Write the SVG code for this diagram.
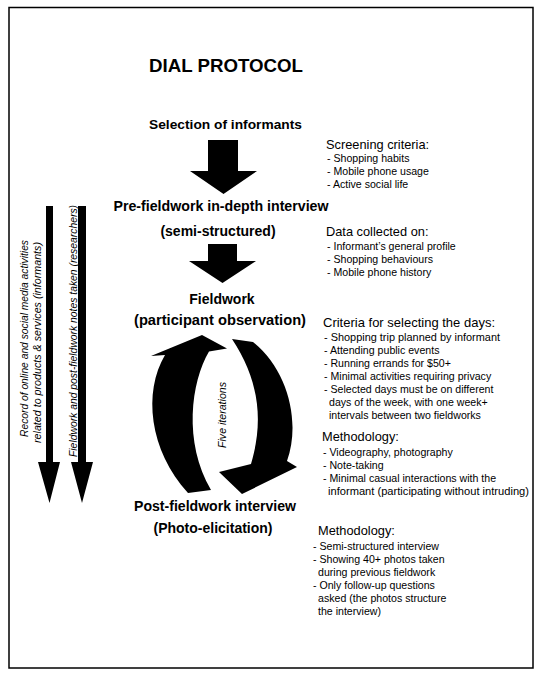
<svg xmlns="http://www.w3.org/2000/svg" width="543" height="676" viewBox="0 0 543 676">
<style>
.b{font-family:"Liberation Sans",Arial,sans-serif;font-weight:bold;fill:#000;text-anchor:middle}
.h{font-family:"Liberation Sans",Arial,sans-serif;font-size:12.8px;fill:#000}
.i{font-family:"Liberation Sans",Arial,sans-serif;font-size:10.6px;fill:#000}
.r{font-family:"Liberation Sans",Arial,sans-serif;font-size:10.5px;font-style:italic;fill:#000;text-anchor:middle}
.a{fill:#000;stroke:none}
</style>
<rect x="0" y="0" width="543" height="676" fill="#fff"/>
<rect x="9" y="7.5" width="524" height="660.5" fill="none" stroke="#000" stroke-width="1.5"/>
<g id="title"><text class="b" x="226" y="72" font-size="18.5" textLength="154" lengthAdjust="spacingAndGlyphs">DIAL PROTOCOL</text></g>
<g id="selection"><text class="b" x="225.5" y="129" font-size="13.5" textLength="153" lengthAdjust="spacingAndGlyphs">Selection of informants</text></g>
<g id="prefieldwork">
<text class="b" x="221" y="211" font-size="14" textLength="215" lengthAdjust="spacingAndGlyphs">Pre-fieldwork in-depth interview</text>
<text class="b" x="218" y="236" font-size="14">(semi-structured)</text>
</g>
<g id="fieldwork">
<text class="b" x="222" y="304" font-size="14">Fieldwork</text>
<text class="b" x="220" y="325" font-size="14" textLength="172" lengthAdjust="spacingAndGlyphs">(participant observation)</text>
</g>
<g id="postfieldwork">
<text class="b" x="215" y="511" font-size="14" textLength="162" lengthAdjust="spacingAndGlyphs">Post-fieldwork interview</text>
<text class="b" x="213" y="533" font-size="14">(Photo-elicitation)</text>
</g>
<g id="screening">
<text class="h" x="326" y="149">Screening criteria:</text>
<text class="i" x="327" y="162">- Shopping habits</text>
<text class="i" x="327" y="175">- Mobile phone usage</text>
<text class="i" x="327" y="188">- Active social life</text>
</g>
<g id="datacollected">
<text class="h" x="326" y="236">Data collected on:</text>
<text class="i" x="327" y="250">- Informant’s general profile</text>
<text class="i" x="327" y="263">- Shopping behaviours</text>
<text class="i" x="327" y="276">- Mobile phone history</text>
</g>
<g id="criteria">
<text class="h" x="323" y="327" textLength="172" lengthAdjust="spacingAndGlyphs">Criteria for selecting the days:</text>
<text class="i" x="324" y="341" textLength="176" lengthAdjust="spacingAndGlyphs">- Shopping trip planned by informant</text>
<text class="i" x="324" y="354">- Attending public events</text>
<text class="i" x="324" y="367">- Running errands for $50+</text>
<text class="i" x="324" y="380">- Minimal activities requiring privacy</text>
<text class="i" x="324" y="393">- Selected days must be on different</text>
<text class="i" x="329" y="406">days of the week, with one week+</text>
<text class="i" x="329" y="419">intervals between two fieldworks</text>
</g>
<g id="methodology1">
<text class="h" x="322" y="441">Methodology:</text>
<text class="i" x="323" y="456">- Videography, photography</text>
<text class="i" x="323" y="469">- Note-taking</text>
<text class="i" x="323" y="482">- Minimal casual interactions with the</text>
<text class="i" x="328" y="495" textLength="201" lengthAdjust="spacingAndGlyphs">informant (participating without intruding)</text>
</g>
<g id="methodology2">
<text class="h" x="318" y="535">Methodology:</text>
<text class="i" x="313" y="550">- Semi-structured interview</text>
<text class="i" x="313" y="563">- Showing 40+ photos taken</text>
<text class="i" x="318" y="576">during previous fieldwork</text>
<text class="i" x="313" y="589">- Only follow-up questions</text>
<text class="i" x="318" y="602">asked (the photos structure</text>
<text class="i" x="318" y="615">the interview)</text>
</g>
<g id="connectors">
<path class="a" d="M208,140 H238 V171 H257 L223.5,194 L190,171 H208 Z"/>
<path class="a" d="M208,244 H237 V261 H256 L222.5,283 L189,261 H208 Z"/>
<path class="a" d="M46,206 H53 V462 H60 L49.5,503 L38,462 H46 Z"/>
<path class="a" d="M78,206 H86 V462 H93 L82,503 L71,462 H78 Z"/>
<path class="a" d="M202,335 L227,348.5 L209,351.5 C191,382 183,442 211,490 L188,493 C149,450 143,392 165,355 L151,356 Z"/>
<path class="a" d="M232,339 L253,342 C288,370 301,422 287,461 L297,467 L242,494 L219,472 L251,464 C264,420 259,380 232,339 Z"/>
</g>
<g id="side-labels">
<text class="r" transform="translate(27.5,338.5) rotate(-90)" textLength="197" lengthAdjust="spacingAndGlyphs">Record of online and social media activities</text>
<text class="r" transform="translate(40.5,342.5) rotate(-90)" textLength="201" lengthAdjust="spacingAndGlyphs">related to products &amp; services (informants)</text>
<text class="r" transform="translate(77,331) rotate(-90)" textLength="252" lengthAdjust="spacingAndGlyphs">Fieldwork and post-fieldwork notes taken (researchers)</text>
<text class="r" transform="translate(225.5,415) rotate(-90)" font-size="11" textLength="66" lengthAdjust="spacingAndGlyphs">Five iterations</text>
</g>
</svg>
